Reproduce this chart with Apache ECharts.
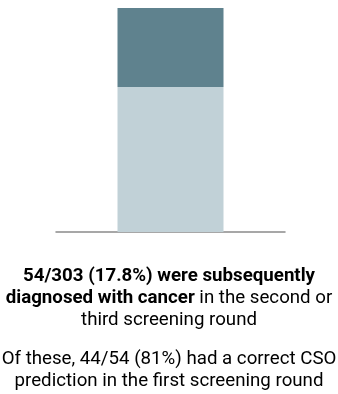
<!DOCTYPE html>
<html>
<head>
<meta charset="utf-8">
<script src="https://cdn.jsdelivr.net/npm/echarts@6/dist/echarts.min.js"></script>
<style>
html,body{margin:0;padding:0;background:#fff;}
#chart{width:338px;height:394px;}
</style>
</head>
<body>
<div id="chart"></div>
<script>
// Data
var categories = ['First screening round'];
var lowerValues = [64.7];   // light segment (share of bar)
var upperValues = [35.3];   // dark segment (share of bar)
var captionLines = [
  '{b|54/303 (17.8%) were subsequently}',
  '{b|diagnosed with cancer}{r| in the second or}',
  '{r|third screening round}',
  '{s|Of these, 44/54 (81%) had a correct CSO}',
  '{s|prediction in the first screening round}'
];
var captionY = [276.5, 298.5, 320.5, 359.5, 381];

var chart = echarts.init(document.getElementById('chart'), null, {renderer: 'canvas'});
var font = 'Roboto, "Noto Sans", sans-serif';
var rich = {
  b: {fontFamily: font, fontSize: 18.7, fontWeight: 'bold', color: '#222'},
  r: {fontFamily: font, fontSize: 18.7, color: '#555'},
  s: {fontFamily: font, fontSize: 18.7, color: '#3a3a3a'}
};
var graphics = captionLines.map(function (t, i) {
  return {
    type: 'text',
    x: 169,
    y: captionY[i],
    style: {text: t, rich: rich, align: 'center', verticalAlign: 'middle'}
  };
});

chart.setOption({
  animation: false,
  grid: {left: 56, right: 53, top: 8, bottom: 162},
  xAxis: {
    type: 'category',
    data: categories,
    axisLine: {show: true, lineStyle: {color: '#8a8a8a', width: 1.5}},
    axisTick: {show: false},
    axisLabel: {show: false}
  },
  yAxis: {
    type: 'value',
    min: 0,
    max: 100,
    show: false,
    splitLine: {show: false}
  },
  series: [
    {type: 'bar', stack: 'a', data: lowerValues, barWidth: 106,
     itemStyle: {color: '#c1d1d7'}},
    {type: 'bar', stack: 'a', data: upperValues, barWidth: 106,
     itemStyle: {color: '#5f828e'}}
  ],
  graphic: graphics
});
</script>
</body>
</html>
